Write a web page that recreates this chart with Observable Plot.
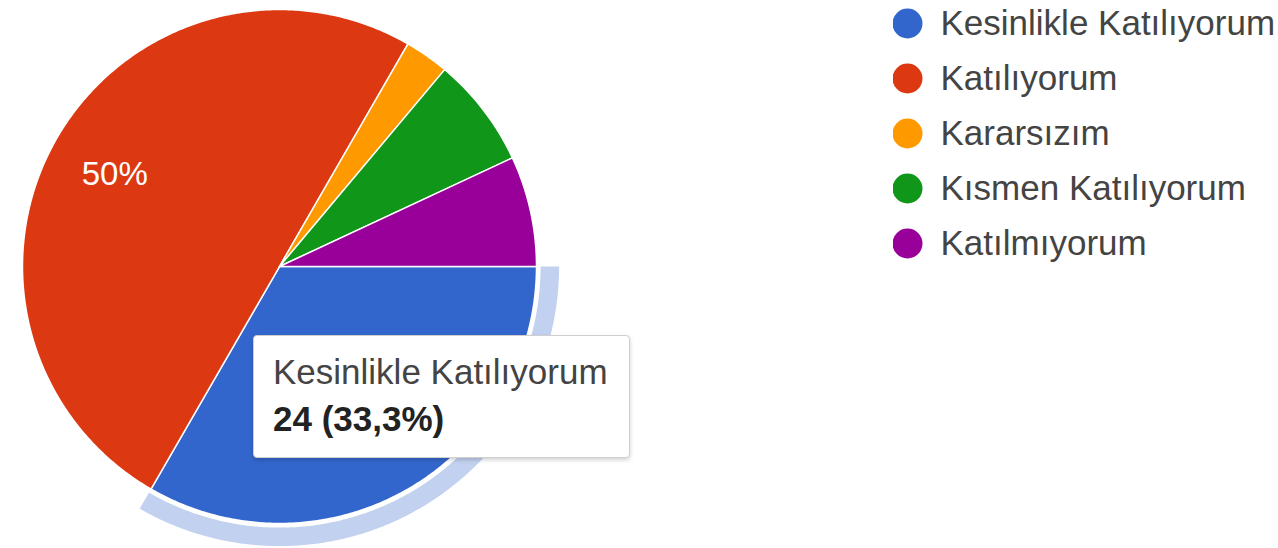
<!DOCTYPE html>
<html><head><meta charset="utf-8">
<script src="https://cdn.jsdelivr.net/npm/d3@7"></script>
<script src="https://cdn.jsdelivr.net/npm/@observablehq/plot@0.6"></script>
<style>
body{margin:0;background:#fff;width:1278px;height:548px;overflow:hidden;position:relative;font-family:Arial,"Liberation Sans",sans-serif}
#pie{position:absolute;left:0;top:0}
#legend{position:absolute;left:893px;top:0}
#tip{position:absolute;left:253px;top:335px;width:377px;height:123px;box-sizing:border-box;background:#fff;border:1px solid #cfcfcf;border-radius:4px;box-shadow:0 2px 4px rgba(0,0,0,0.18);padding:12px 0 0 19px;font-size:35px;line-height:47px;white-space:nowrap}
#tip .l1{color:#444}
#tip .l2{color:#222;font-weight:bold}
</style></head><body>
<div id="pie"></div>
<div id="legend"></div>
<div id="tip"><div class="l1"></div><div class="l2"></div></div>
<script>
const categories = ["Kesinlikle Katılıyorum", "Katılıyorum", "Kararsızım", "Kısmen Katılıyorum", "Katılmıyorum"];
const counts = [24, 36, 2, 5, 5];
const colors = ["#3366cc", "#dc3912", "#ff9900", "#109618", "#990099"];
const highlighted = "Kesinlikle Katılıyorum";

const total = d3.sum(counts);
const fmtPct = p => {
  const v = Math.round(p * 1000) / 10;
  return (Number.isInteger(v) ? String(v) : v.toFixed(1).replace(".", ",")) + "%";
};
const arcs = d3.pie().sort(null).startAngle(Math.PI / 2).endAngle(Math.PI / 2 + 2 * Math.PI)(counts)
  .map((a, i) => ({cat: categories[i], value: a.value, pct: a.value / total, a0: a.startAngle, a1: a.endAngle}));

function arcPts(a0, a1, r) {
  const n = Math.max(2, Math.ceil((a1 - a0) / (Math.PI / 360)));
  return d3.range(n + 1).map(k => {
    const a = a0 + (a1 - a0) * k / n;
    return {x: r * Math.sin(a), y: r * Math.cos(a)};
  });
}
const slicePts = arcs.flatMap(s => [
  {x: 0, y: 0}, ...arcPts(s.a0, s.a1, 1), {x: 0, y: 0}
].map(p => ({...p, cat: s.cat})));

const hs = arcs.find(s => s.cat === highlighted);
const haloPts = [...arcPts(hs.a0, hs.a1, 1.088), ...arcPts(hs.a0, hs.a1, 1.016).reverse()];

// the highlighted slice's own label is hidden under the tooltip
const labels = arcs.filter(s => s.pct >= 0.1 && s.cat !== highlighted).map(s => {
  const m = (s.a0 + s.a1) / 2;
  return {x: 0.74 * Math.sin(m), y: 0.74 * Math.cos(m), text: fmtPct(s.pct)};
});

const R = 257, cx = 279, cy = 266, W = 1278, H = 548;
const pie = Plot.plot({
  width: W, height: H, margin: 0,
  style: {fontFamily: "Arial, 'Liberation Sans', sans-serif", background: "transparent"},
  x: {axis: null, domain: [-cx / R, (W - cx) / R], range: [0, W]},
  y: {axis: null, domain: [-(H - cy) / R, cy / R], range: [H, 0]},
  color: {domain: categories, range: colors},
  marks: [
    Plot.line(haloPts, {x: "x", y: "y", fill: "#c2d1f0", stroke: "none", curve: "linear"}),
    Plot.line(slicePts, {x: "x", y: "y", z: "cat", fill: "cat", stroke: "white", strokeWidth: 1.5, curve: "linear"}),
    Plot.text(labels, {x: "x", y: "y", text: "text", fill: "white", fontSize: 33, dy: 3})
  ]
});
document.getElementById("pie").appendChild(pie);

const legend = Plot.plot({
  width: 385, height: 280, margin: 0,
  style: {fontFamily: "Arial, 'Liberation Sans', sans-serif", background: "transparent"},
  x: {axis: null, domain: [0, 1], range: [0, 385]},
  y: {axis: null, type: "point", domain: categories, range: [22, 244], padding: 0},
  color: {domain: categories, range: colors},
  marks: [
    Plot.dot(categories, {x: () => 0, y: d => d, fill: d => d, r: 15, dx: 14, stroke: "none"}),
    Plot.text(categories, {x: () => 0, y: d => d, text: d => d, dx: 47, textAnchor: "start", fontSize: 35, fill: "#444"})
  ]
});
document.getElementById("legend").appendChild(legend);

document.querySelector("#tip .l1").textContent = hs.cat;
document.querySelector("#tip .l2").textContent = `${hs.value} (${fmtPct(hs.pct)})`;
</script>
</body></html>
